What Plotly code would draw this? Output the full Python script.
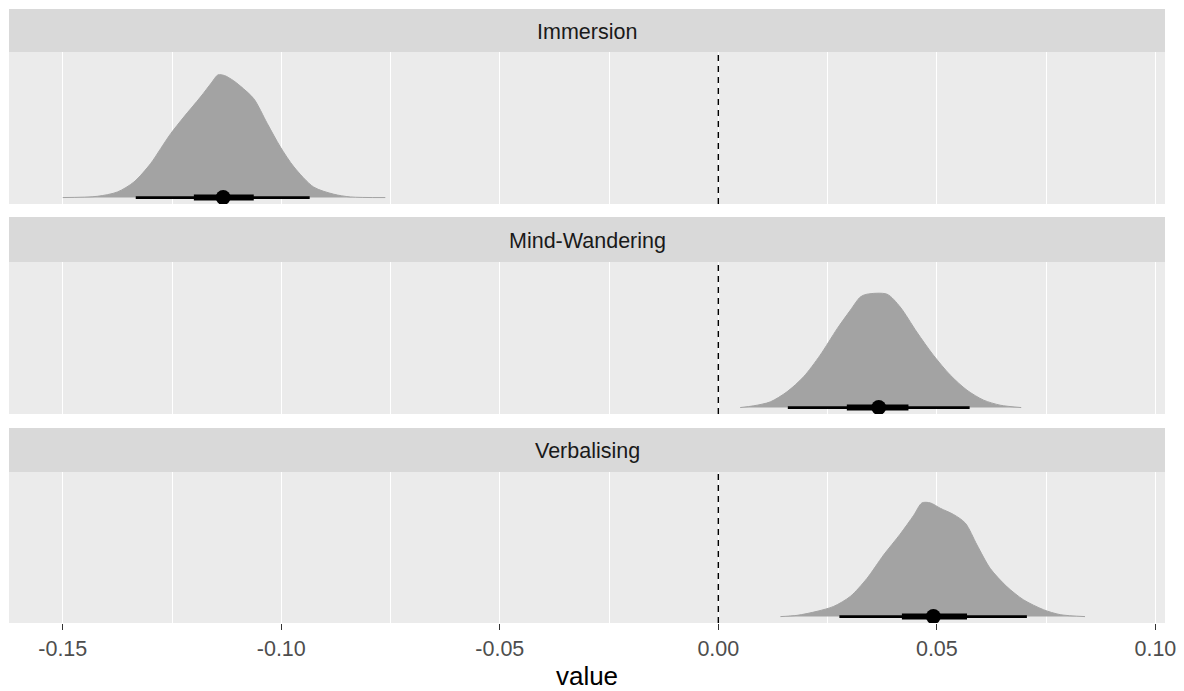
import plotly.graph_objects as go

# ---------------- data ----------------
facets = ["Immersion", "Mind-Wandering", "Verbalising"]

imm_x = [-0.1500, -0.1421, -0.1375, -0.1337, -0.1299, -0.1276, -0.1253, -0.1223, -0.1185, -0.1160,
         -0.1145, -0.1130, -0.1110, -0.1093, -0.1063, -0.1032, -0.1002, -0.0971, -0.0926, -0.0880, -0.0842, -0.0762]
imm_d = [0.0, 0.010, 0.045, 0.126, 0.274, 0.395, 0.516, 0.650, 0.811, 0.925,
         0.990, 0.985, 0.945, 0.898, 0.798, 0.597, 0.408, 0.247, 0.085, 0.027, 0.005, 0.0]

mw_x = [0.0050, 0.0081, 0.0119, 0.0157, 0.0195, 0.0233, 0.0272, 0.0302, 0.0325, 0.0340,
        0.0386, 0.0416, 0.0454, 0.0492, 0.0531, 0.0569, 0.0607, 0.0645, 0.0693]
mw_d = [0.0, 0.014, 0.046, 0.127, 0.248, 0.423, 0.637, 0.785, 0.893, 0.915,
        0.915, 0.812, 0.610, 0.423, 0.261, 0.140, 0.060, 0.019, 0.0]

vb_x = [0.0142, 0.0180, 0.0226, 0.0264, 0.0302, 0.0340, 0.0378, 0.0416, 0.0447, 0.0466, 0.0485,
        0.0508, 0.0538, 0.0565, 0.0592, 0.0622, 0.0660, 0.0698, 0.0744, 0.0782, 0.0839]
vb_d = [0.0, 0.010, 0.043, 0.083, 0.164, 0.310, 0.500, 0.670, 0.823, 0.924, 0.924,
        0.880, 0.830, 0.760, 0.581, 0.392, 0.244, 0.137, 0.056, 0.016, 0.0]

# point estimate and intervals (66% thick, 95% thin)
point_est = [-0.1133, 0.0367, 0.0492]
q66_lo = [-0.1200, 0.0294, 0.0420]
q66_hi = [-0.1063, 0.0435, 0.0569]
q95_lo = [-0.1333, 0.0159, 0.0277]
q95_hi = [-0.0935, 0.0575, 0.0706]

tick_vals = [-0.15, -0.10, -0.05, 0.00, 0.05, 0.10]
tick_text = ["-0.15", "-0.10", "-0.05", "0.00", "0.05", "0.10"]

slab_x = [imm_x, mw_x, vb_x]
slab_d = [imm_d, mw_d, vb_d]

# ---------------- layout geometry ----------------
W, H = 1184, 691
mt, mb, ml, mr = 9, 68, 9, 19
ph = H - mt - mb


def fy(py):
    return (H - mb - py) / ph


panel_px = [(52, 204), (262, 414), (472, 623)]
strip_px = [(9, 52), (217, 262), (428, 472)]

x_range = [-0.1623, 0.1022]
y_range = [-0.052, 1.175]

FONT = "Liberation Sans, Arial"
SLAB = "#A3A3A3"
fig = go.Figure()

for i in range(3):
    xa = "x" if i == 0 else f"x{i+1}"
    ya = "y" if i == 0 else f"y{i+1}"
    fig.add_trace(go.Scatter(x=slab_x[i], y=slab_d[i], mode="lines", fill="tozeroy",
                             fillcolor=SLAB,
                             line=dict(color=SLAB, width=1, shape="spline", smoothing=0.8),
                             xaxis=xa, yaxis=ya, showlegend=False, hoverinfo="skip"))
    fig.add_trace(go.Scatter(x=[q95_lo[i], q95_hi[i]], y=[0, 0], mode="lines",
                             line=dict(color="black", width=2.7),
                             xaxis=xa, yaxis=ya, showlegend=False, hoverinfo="skip"))
    fig.add_trace(go.Scatter(x=[q66_lo[i], q66_hi[i]], y=[0, 0], mode="lines",
                             line=dict(color="black", width=6),
                             xaxis=xa, yaxis=ya, showlegend=False, hoverinfo="skip"))
    fig.add_trace(go.Scatter(x=[point_est[i]], y=[0], mode="markers",
                             marker=dict(color="black", size=15),
                             xaxis=xa, yaxis=ya, showlegend=False, hoverinfo="skip"))

    top, bot = panel_px[i]
    xkey = "xaxis" if i == 0 else f"xaxis{i+1}"
    ykey = "yaxis" if i == 0 else f"yaxis{i+1}"
    last = (i == 2)
    fig.layout[xkey] = dict(
        domain=[0, 1], anchor=ya, range=x_range, matches=None if i == 2 else "x3",
        automargin=False,
        tickvals=tick_vals, ticktext=tick_text, showticklabels=last,
        ticks="outside" if last else "", ticklen=6, tickwidth=1.2, tickcolor="#333333",
        tickfont=dict(family=FONT, size=21.5, color="#4D4D4D"),
        showgrid=True, gridcolor="white", gridwidth=1.4, zeroline=False, showline=False,
        minor=dict(tick0=-0.125, dtick=0.05, showgrid=True, gridcolor="white", gridwidth=0.7),
        title=dict(text="value" if last else "", standoff=10,
                   font=dict(family=FONT, size=26, color="black")),
    )
    fig.layout[ykey] = dict(domain=[fy(bot), fy(top)], anchor=xa, range=y_range,
                            automargin=False,
                            showticklabels=False, showgrid=False, zeroline=False, ticks="")

    # strip
    s_top, s_bot = strip_px[i]
    fig.add_shape(type="rect", xref="paper", yref="paper", x0=0, x1=1,
                  y0=fy(s_bot), y1=fy(s_top), fillcolor="#D9D9D9", line=dict(width=0), layer="below")
    fig.add_annotation(x=0.5, y=(fy(s_bot) + fy(s_top)) / 2, xref="paper", yref="paper",
                       xanchor="center", yanchor="middle", yshift=-1,
                       text=facets[i], showarrow=False,
                       font=dict(family=FONT, size=21.5, color="#1A1A1A"))
    # zero reference line
    fig.add_shape(type="line", xref=xa, yref=f"{ya} domain", x0=0, x1=0, y0=0, y1=1,
                  line=dict(color="black", width=1.4, dash="6px,5px"), layer="above")

fig.update_layout(width=W, height=H, margin=dict(l=ml, r=mr, t=mt, b=mb, autoexpand=False),
                  paper_bgcolor="white", plot_bgcolor="#EBEBEB", showlegend=False,
                  font=dict(family=FONT))

fig.write_html("out.html")
